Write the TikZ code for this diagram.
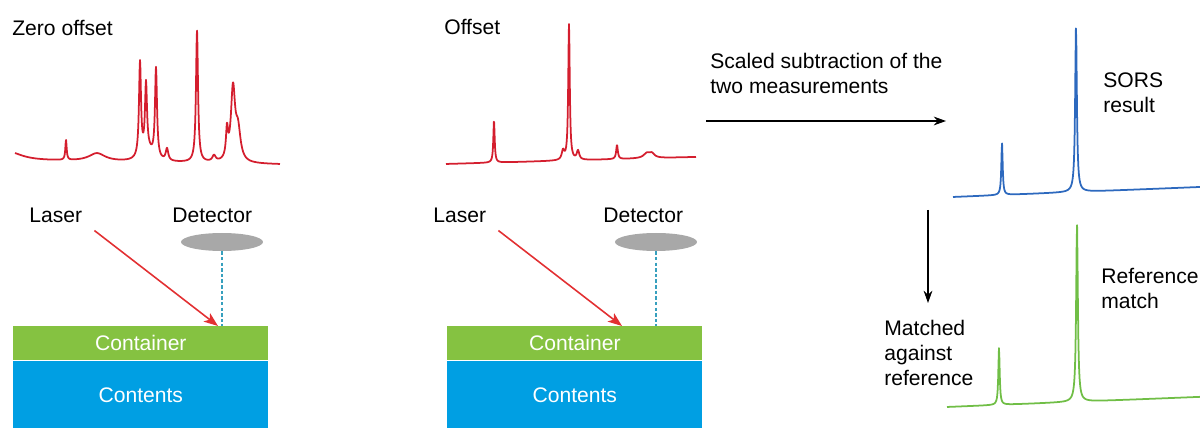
\documentclass[tikz,border=0pt]{standalone}
\usepackage{fontspec}
\setmainfont{Liberation Sans}
\usetikzlibrary{shapes.geometric,arrows.meta,positioning}
\definecolor{specred}{RGB}{212,30,46}
\definecolor{specblue}{RGB}{45,105,190}
\definecolor{specgreen}{RGB}{112,190,70}
\definecolor{laserred}{RGB}{226,48,50}
\definecolor{shellgreen}{RGB}{133,194,65}
\definecolor{fillblue}{RGB}{0,159,227}
\definecolor{lensgray}{RGB}{168,168,168}
\definecolor{probeteal}{RGB}{55,160,190}
\tikzstyle{lbl}=[inner sep=0pt, font=\fontsize{12}{14.2}\selectfont, align=left]
\tikzstyle{spec}=[line width=1pt, line join=round]
\tikzstyle{layer}=[inner sep=0pt, text=white, font=\fontsize{12}{14.2}\selectfont, minimum width=5.1cm]
\tikzstyle{lens}=[ellipse, fill=lensgray, inner sep=0pt, minimum width=1.64cm, minimum height=0.36cm]
\tikzstyle{probe}=[probeteal, line width=0.6pt, dash pattern=on 2pt off 1.2pt]
\tikzstyle{beam}=[-{Stealth[length=8pt,width=6pt,inset=2pt]}, laserred, line width=0.9pt]
\tikzstyle{flow}=[-{Stealth[length=7pt,width=5pt]}, line width=0.6pt]
\begin{document}
\begin{tikzpicture}[x=0.02cm, y=-0.02cm,
  declare function={pk(\ta,\tc,\th,\tw)=\th/(1+min(abs(\ta-\tc)/\tw,100)^2);}]
\useasboundingbox (0,0) rectangle (1200,428);

\node[lbl, anchor=base west] (zero) at (12,36) {Zero offset};
\node[lbl, anchor=base west] (offs) at (444,35) {Offset};

\draw[spec, specred] plot[domain=15:280, samples=800] (\x, {161+0.015*(\x-50)
  - pk(\x,10,8,15) - pk(\x,97,8,10) - pk(\x,66,20,0.8) - pk(\x,148,10,6)
  - pk(\x,140,95,1.2) - pk(\x,146,68,1.2) - pk(\x,156,90,1.2) - pk(\x,167,12,1.5)
  - pk(\x,197,132,1.2) - pk(\x,214,6,2) - pk(\x,227,28,1.2) - pk(\x,233,72,2.5)
  - pk(\x,238,30,3)});
\draw[spec, specred] plot[domain=446:696, samples=800] (\x, {164-0.028*(\x-446)
  - pk(\x,494,42,0.8) - pk(\x,563,9,1.5) - pk(\x,569,136,0.9) - pk(\x,578,9,1.5)
  - pk(\x,617,14,1) - pk(\x,647,5,4) - pk(\x,652,4,3)});

\foreach \p/\dx/\lx/\tx/\hx in {a/0/29/172/218, b/434/433/603/622} {
  \node[layer, fill=shellgreen, minimum height=0.68cm, anchor=north west] (shell\p) at (13+\dx,326) {Container};
  \node[layer, fill=fillblue, minimum height=1.36cm, anchor=north] (fill\p) at (shell\p.south) {Contents};
  \node[lbl, anchor=base west] (laser\p) at (\lx,223) {Laser};
  \node[lbl, anchor=base west] (det\p) at (\tx,223) {Detector};
  \node[lens] (lens\p) at (222+\dx,242) {};
  \coordinate (hit\p) at (\hx,326);
  \draw[probe] (lens\p.south) -- (lens\p.south |- shell\p.north);
  \draw[beam] ([shift={(12,7)}]laser\p.south east) -- (hit\p);
}

\node[lbl, anchor=north west] (scaled) at (710,53) {Scaled subtraction of the\\two measurements};
\coordinate (subL) at (706,121);
\coordinate (subR) at (946,121);
\draw[flow] (subL) -- (subR);

\draw[spec, specblue] plot[domain=953:1200, samples=600] (\x, {197-0.0405*(\x-953)
  - pk(\x,1002,52,0.8) - pk(\x,1076,166,1)});
\node[lbl, anchor=north west] (sors) at (1103,72) {SORS\\result};

\coordinate (matchT) at (928,210);
\coordinate (matchB) at (928,303);
\draw[flow] (matchT) -- (matchB);
\node[lbl, anchor=north west] (against) at (884,320) {Matched\\against\\reference};

\draw[spec, specgreen] plot[domain=947:1200, samples=600] (\x, {407-0.04*(\x-947)
  - pk(\x,999,57,0.8) - pk(\x,1077,178,1)});
\node[lbl, anchor=north west] (refm) at (1101,268) {Reference\\match};
\end{tikzpicture}
\end{document}
